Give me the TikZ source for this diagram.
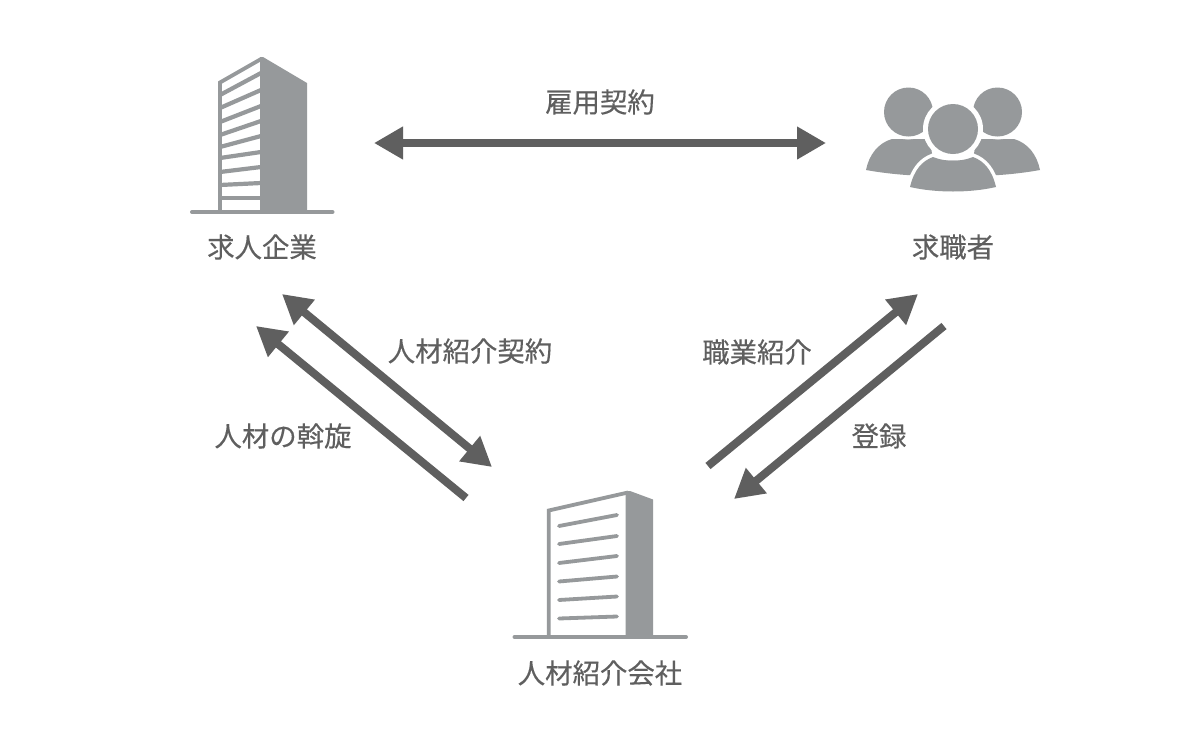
\documentclass[tikz,border=0pt]{standalone}
\usepackage{fontspec}
\setmainfont[FakeBold=0.35]{Noto Sans CJK JP}
\usetikzlibrary{arrows.meta}
\definecolor{icon}{HTML}{96999B}
\definecolor{ink}{HTML}{5F5F5F}
\tikzset{
  lbl/.style={font=\fontsize{27.4}{27.4}\selectfont, text=ink, inner sep=0pt, anchor=center},
  solo/.style={-{Triangle[length=29pt,width=31pt]}, line width=8pt, draw=ink},
  duo/.style={{Triangle[length=29pt,width=31pt]}-{Triangle[length=29pt,width=31pt]}, line width=8pt, draw=ink},
  slat/.style={draw=icon, line width=4.2pt},
  wall/.style={draw=icon, line width=3.8pt},
  ground/.style={draw=icon, line width=4pt, line cap=round},
  slatb/.style={draw=icon, line width=3.8pt, line cap=round}
}
\begin{document}
\begin{tikzpicture}[x=1pt,y=-1pt]
\useasboundingbox (0,0) rectangle (1200,750);
\fill[white] (0,0) rectangle (1200,750);

% company building
\foreach \l/\r in {95/73,108/90,122/106,135/121,147/136,158/152,172/167,185/183,198/198}
  \draw[slat] (220,\l) -- (261,\r);
\draw[wall] (220,212) -- (220,82.5) -- (262,58.5);
\fill[icon] (260,57) -- (263,57) -- (307,83) -- (307,212) -- (260,212) -- cycle;
\draw[ground] (192,212) -- (332.5,212);

% agency building
\foreach \l/\r in {526/515,544/536,563/556,581.5/576.5,600/596.5,618.5/616.5}
  \draw[slatb] (559,\l) -- (617,\r);
\draw[wall] (548.7,637) -- (548.7,510.5) -- (628,492.5);
\fill[icon] (625.5,491.5) -- (630,491) -- (653,499.5) -- (653,637) -- (625.5,637) -- cycle;
\draw[ground] (514.5,637) -- (686,637);

% people
\fill[icon] (866,170) .. controls (869,155) and (878,143) .. (892,139) -- (930,139) -- (935,176) .. controls (912,176) and (888,174) .. cycle;
\fill[icon] (1040,170) .. controls (1037,155) and (1028,143) .. (1014,139) -- (976,139) -- (971,176) .. controls (994,176) and (1018,174) .. cycle;
\fill[white] (908,112) circle (27.5);
\fill[white] (998,112) circle (27.5);
\fill[icon] (908.5,112) circle (24.5);
\fill[icon] (997.5,112) circle (24.5);
\filldraw[icon, draw=white, line width=7pt, fill=icon]
  (910,187) .. controls (914,170) and (922,161) .. (933,157) -- (973,157)
  .. controls (984,161) and (992,170) .. (996,187) .. controls (970,193) and (936,193) .. cycle;
\fill[white] (953,129) circle (30);
\fill[icon] (953,129) circle (25);
\fill[icon] (910,187) .. controls (914,170) and (922,161) .. (933,157) .. controls (945,162) and (961,162) .. (973,157)
  .. controls (984,161) and (992,170) .. (996,187) .. controls (970,193) and (936,193) .. cycle;

% labels
\node[lbl] (company) at (262,247) {求人企業};
\node[lbl] (seeker) at (953,247) {求職者};
\node[lbl] (agency) at (600,673) {人材紹介会社};
\node[lbl] (employ) at (600,102) {雇用契約};
\node[lbl] (contract) at (470,351) {人材紹介契約};
\node[lbl] (mediate) at (283,436) {人材の斡旋};
\node[lbl] (intro) at (757,352) {職業紹介};
\node[lbl] (register) at (879,436) {登録};

% connectors
\coordinate (h1) at (374,143); \coordinate (h2) at (826,143);
\coordinate (a1) at (282,294); \coordinate (a2) at (492,467);
\coordinate (b1) at (466,498); \coordinate (b2) at (256,326);
\coordinate (c1) at (708,466); \coordinate (c2) at (918,294);
\coordinate (d1) at (944,326); \coordinate (d2) at (734,499);
\draw[duo] (h1) -- (h2);
\draw[duo] (a1) -- (a2);
\draw[solo] (b1) -- (b2);
\draw[solo] (c1) -- (c2);
\draw[solo] (d1) -- (d2);
\end{tikzpicture}
\end{document}
